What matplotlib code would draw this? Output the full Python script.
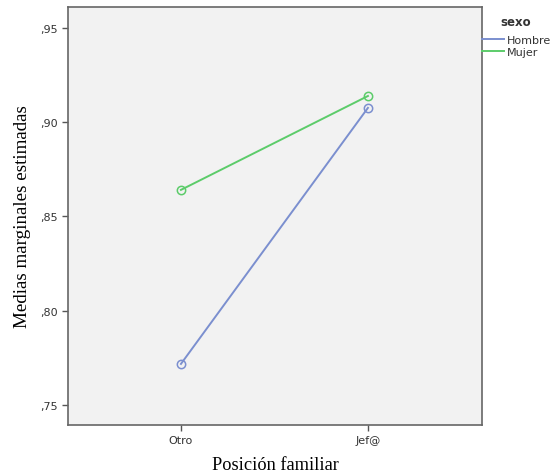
import matplotlib
matplotlib.use("Agg")
import matplotlib.pyplot as plt
from matplotlib.lines import Line2D

categories = ["Otro", "Jef@"]
hombre = [0.7718, 0.9076]
mujer = [0.8641, 0.9139]
series_names = ["Hombre", "Mujer"]
yticks = [0.75, 0.80, 0.85, 0.90, 0.95]
ytick_labels = [",75", ",80", ",85", ",90", ",95"]

fig = plt.figure(figsize=(5.55, 4.77), dpi=100)
W, H = 555, 477
ax = fig.add_axes([68 / W, 1 - 426 / H, 414 / W, 418 / H])
ax.set_facecolor("#f2f2f2")

c_h = "#7b8fcf"
c_m = "#5ccc6a"
x = list(range(len(categories)))
ax.plot(x, hombre, color=c_h, lw=1.4, marker="o", ms=6, mfc="none", mec=c_h, mew=1.1)
ax.plot(x, mujer, color=c_m, lw=1.4, marker="o", ms=6, mfc="none", mec=c_m, mew=1.1)

ax.set_xlim(-0.604, 1.61)
ax.set_ylim(0.7394, 0.9611)
ax.set_xticks(x)
ax.set_xticklabels(categories, fontsize=8, color="#333333")
ax.set_yticks(yticks)
ax.set_yticklabels(ytick_labels, fontsize=8, color="#333333")
ax.tick_params(length=4, width=1, color="#555555")
for s in ax.spines.values():
    s.set_color("#666666")
    s.set_linewidth(1.2)

ax.set_ylabel("Medias marginales estimadas", family="Liberation Serif", fontsize=13.7)
ax.set_xlabel("Posición familiar", family="Liberation Serif", fontsize=13.2)
ax.yaxis.set_label_coords(-(68 - 23) / 414, 0.5)
ax.xaxis.set_label_coords(0.5, -(466 - 426) / 418)
ax.xaxis.label.set_va("center")
ax.yaxis.label.set_va("center")

fig.text(500 / W, 1 - 22 / H, "sexo", fontsize=8.5, fontweight="bold", color="#333333",
         va="center", ha="left")
handles = [Line2D([0], [0], color=c_h, lw=1.4), Line2D([0], [0], color=c_m, lw=1.4)]
leg = fig.legend(handles, series_names, loc="upper left",
                 bbox_to_anchor=(482 / W, 1 - 36 / H), frameon=False, fontsize=8,
                 handlelength=2.0, handletextpad=0.2,
                 labelspacing=0.2, borderaxespad=0, borderpad=0)
for t in leg.get_texts():
    t.set_color("#333333")

fig.savefig("out.png", dpi=100)
